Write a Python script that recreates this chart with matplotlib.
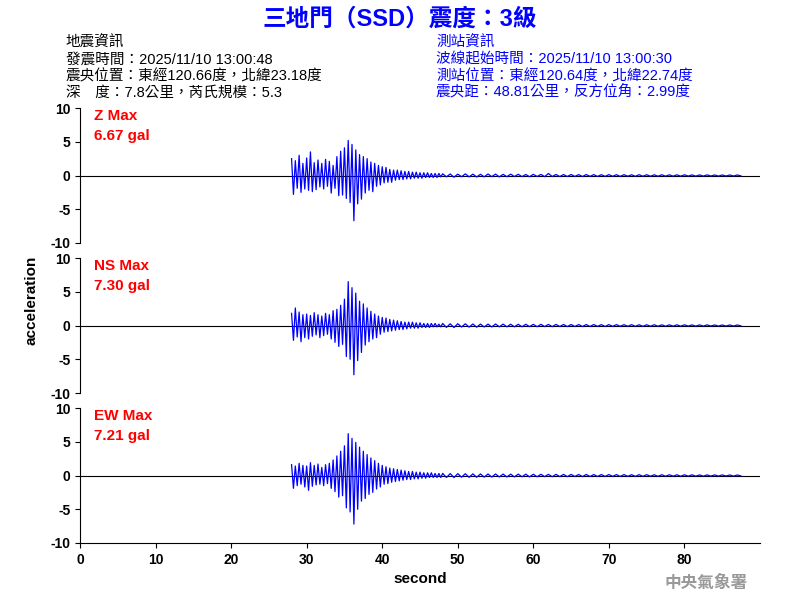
import numpy as np
import matplotlib
matplotlib.use("Agg")
import matplotlib.pyplot as plt

plt.rcParams['font.family'] = ['Liberation Sans', 'Noto Sans CJK TC', 'DejaVu Sans']
plt.rcParams['axes.unicode_minus'] = False

title = "三地門（SSD）震度：3級"
left_info = ["地震資訊", "發震時間：2025/11/10 13:00:48", "震央位置：東經120.66度，北緯23.18度", "深　度：7.8公里，芮氏規模：5.3"]
right_info = ["測站資訊", "波線起始時間：2025/11/10 13:00:30", "測站位置：東經120.64度，北緯22.74度", "震央距：48.81公里，反方位角：2.99度"]
labels = ["Z Max\n6.67 gal", "NS Max\n7.30 gal", "EW Max\n7.21 gal"]

# main part: 28-48 s every 0.25 s ; tail: 48-88 s every 0.5 s
z_main = [2.5,-2.8,2.2,-1.9,3.0,-2.5,1.8,-2.0, 2.6,-2.2,3.5,-2.4,1.9,-2.1,2.3,-1.7,
          1.8,-2.0,2.4,-1.6,2.1,-2.6,1.5,-1.9, 2.8,-3.0,3.6,-2.9,4.1,-3.4,5.2,-4.0,
          4.6,-6.7,3.8,-4.2,3.1,-3.5,2.8,-2.6, 2.5,-2.2,2.0,-2.4,1.8,-1.6,1.5,-1.4,
          1.3,-1.1,1.2,-1.0,0.9,-1.0,0.8,-0.7, 0.8,-0.6,0.7,-0.6,0.6,-0.5,0.6,-0.5,
          0.5,-0.4,0.5,-0.4,0.4,-0.4,0.4,-0.3, 0.4,-0.3,0.3,-0.3,0.3,-0.3,0.3,-0.2]
ns_main = [1.8,-2.2,2.6,-1.7,2.0,-2.4,1.6,-1.8, 1.7,-2.0,1.5,-1.6,1.9,-1.4,1.6,-1.8,
           1.4,-1.5,1.8,-1.3,1.6,-2.0,2.2,-2.5, 2.4,-3.1,3.0,-2.8,3.9,-4.6,6.5,-5.0,
           5.6,-7.3,4.8,-5.2,3.6,-4.0,3.2,-2.9, 2.6,-2.4,2.1,-2.0,1.7,-1.8,1.4,-1.3,
           1.2,-1.0,1.1,-0.9,0.9,-0.8,0.8,-0.7, 0.7,-0.6,0.6,-0.6,0.5,-0.5,0.5,-0.4,
           0.5,-0.4,0.4,-0.4,0.4,-0.3,0.3,-0.3, 0.3,-0.3,0.3,-0.2,0.3,-0.2,0.2,-0.2]
ew_main = [1.6,-1.9,1.4,-1.5,1.8,-1.3,1.5,-1.7, 1.4,-2.2,1.9,-1.6,1.5,-1.4,1.7,-1.3,
           1.2,-1.5,1.6,-1.2,1.8,-1.9,2.3,-2.4, 2.9,-3.2,3.6,-3.0,4.4,-4.8,6.2,-5.4,
           5.5,-7.2,4.9,-5.0,4.2,-3.8,3.6,-3.4, 3.1,-2.8,2.6,-2.5,2.2,-2.0,1.8,-1.7,
           1.5,-1.3,1.3,-1.2,1.1,-1.0,1.0,-0.9, 0.9,-0.8,0.8,-0.7,0.7,-0.6,0.6,-0.6,
           0.6,-0.5,0.5,-0.5,0.5,-0.4,0.4,-0.4, 0.4,-0.3,0.4,-0.3,0.3,-0.3,0.3,-0.3]
z_tail = [0.25,-0.2,0.22,-0.25,0.2,-0.18,0.24,-0.2,0.2,-0.22,0.18,-0.2,0.22,-0.17,0.2,-0.2,
          0.17,-0.18,0.2,-0.16,0.18,-0.17,0.15,-0.18,0.17,-0.15,0.16,-0.17,0.3,-0.15,0.15,-0.16,
          0.14,-0.15,0.15,-0.14,0.13,-0.15,0.14,-0.13,0.13,-0.14,0.12,-0.13,0.13,-0.12,0.12,-0.13,
          0.12,-0.11,0.11,-0.12,0.12,-0.11,0.11,-0.11,0.1,-0.11,0.11,-0.1,0.1,-0.1,0.1,-0.1,
          0.1,-0.09,0.09,-0.1,0.09,-0.09,0.09,-0.08,0.08,-0.09,0.08,-0.08,0.08,-0.08,0.08,-0.07]
ns_tail = [0.3,-0.28,0.25,-0.3,0.26,-0.22,0.25,-0.24,0.22,-0.25,0.21,-0.22,0.2,-0.21,0.22,-0.19,
           0.2,-0.2,0.19,-0.2,0.18,-0.19,0.18,-0.17,0.17,-0.18,0.17,-0.16,0.16,-0.17,0.16,-0.15,
           0.15,-0.16,0.15,-0.15,0.14,-0.15,0.14,-0.14,0.14,-0.13,0.13,-0.14,0.13,-0.13,0.13,-0.12,
           0.12,-0.12,0.12,-0.12,0.11,-0.12,0.11,-0.11,0.11,-0.11,0.1,-0.11,0.1,-0.1,0.1,-0.1,
           0.1,-0.09,0.09,-0.1,0.09,-0.09,0.09,-0.08,0.08,-0.09,0.08,-0.08,0.08,-0.08,0.08,-0.07]
ew_tail = [0.32,-0.3,0.28,-0.3,0.27,-0.25,0.26,-0.27,0.24,-0.26,0.23,-0.24,0.22,-0.23,0.22,-0.21,
           0.21,-0.22,0.2,-0.21,0.2,-0.19,0.19,-0.2,0.18,-0.19,0.18,-0.17,0.17,-0.18,0.17,-0.16,
           0.16,-0.17,0.16,-0.15,0.15,-0.16,0.15,-0.15,0.14,-0.15,0.14,-0.14,0.14,-0.13,0.13,-0.14,
           0.13,-0.13,0.12,-0.13,0.12,-0.12,0.12,-0.11,0.11,-0.12,0.11,-0.11,0.11,-0.1,0.1,-0.11,
           0.1,-0.1,0.1,-0.1,0.09,-0.1,0.09,-0.09,0.09,-0.09,0.09,-0.08,0.08,-0.09,0.08,-0.08]

t = np.concatenate([28 + 0.25*np.arange(80), 48 + 0.5*np.arange(80)])
traces = [np.array(z_main+z_tail), np.array(ns_main+ns_tail), np.array(ew_main+ew_tail)]

fig = plt.figure(figsize=(8, 6), dpi=100)
fig.text(0.5, 0.988, title, ha='center', va='top', color='blue', fontsize=17, fontweight='bold')
for i, s in enumerate(left_info):
    fig.text(0.082, 0.94 - i*0.0275, s, ha='left', va='top', color='black', fontsize=10.5)
for i, s in enumerate(right_info):
    fig.text(0.545, 0.94 - i*0.0275, s, ha='left', va='top', color='blue', fontsize=10.5)

tops = [108, 258, 408]
axes = []
for i, (tr, lab) in enumerate(zip(traces, labels)):
    top = tops[i]
    ax = fig.add_axes([80/800, 1 - (top+135)/600, 680/800, 135/600])
    ax.axhline(0, color='black', lw=0.8)
    ax.plot(t, tr, color='blue', lw=0.9)
    ax.set_xlim(0, 90)
    ax.set_ylim(-10, 10)
    ax.set_yticks([-10, -5, 0, 5, 10])
    ax.spines['top'].set_visible(False)
    ax.spines['right'].set_visible(False)
    ax.text(0.02, 0.99, lab, transform=ax.transAxes, ha='left', va='top', color='red', fontsize=11, fontweight='bold', linespacing=1.5)
    ax.tick_params(labelsize=10)
    for l in ax.get_yticklabels():
        l.set_fontweight('bold')
    if i < 2:
        ax.set_xticks([])
        ax.spines['bottom'].set_visible(False)
    else:
        ax.set_xticks(range(0, 90, 10))
        for l in ax.get_xticklabels():
            l.set_fontweight('bold')
        ax.set_xlabel("second", fontsize=11, fontweight='bold')
    axes.append(ax)
fig.text(0.04, 0.5, "acceleration", rotation=90, ha='center', va='center', fontsize=11, fontweight='bold')
fig.text(0.935, 0.015, "中央氣象署", ha='right', va='bottom', color='#999999', fontsize=12, fontweight='bold')
fig.savefig("out.png", dpi=100)
